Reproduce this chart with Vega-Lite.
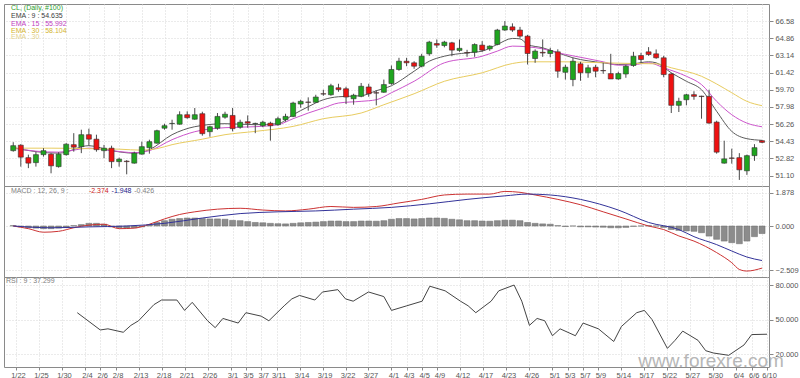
{
"$schema": "https://vega.github.io/schema/vega-lite/v6.json",
"background": "white",
"padding": {"left": 3, "top": 3, "right": 0, "bottom": 0},
"bounds": "flush",
"spacing": 0,
"resolve": {"scale": {"color": "independent", "fill": "independent"}},
"config": {
 "view": {"stroke": "#8a8a8a", "strokeWidth": 1},
 "concat": {"spacing": 0},
 "axis": {"labelFont": "Liberation Sans", "labelFontSize": 7.5, "labelColor": "#555555", "tickColor": "#888888", "tickSize": 4, "labelPadding": 2, "gridColor": "#d6d6d6", "gridDash": [1, 2], "domain": false},
 "text": {"font": "Liberation Sans", "fontSize": 7}
},
"datasets": {
 "candles": [
{"i":0,"o":53.6,"h":54.45,"l":53.5,"c":54.1,"hist":0.02},
{"i":1,"o":54.15,"h":54.25,"l":52.0,"c":52.95,"hist":-0.05},
{"i":2,"o":52.9,"h":53.2,"l":51.85,"c":52.35,"hist":-0.1},
{"i":3,"o":52.4,"h":53.5,"l":52.0,"c":53.2,"hist":-0.12},
{"i":4,"o":53.2,"h":53.85,"l":53.0,"c":53.6,"hist":-0.15},
{"i":5,"o":53.25,"h":53.35,"l":51.33,"c":52.08,"hist":-0.15},
{"i":6,"o":52.0,"h":53.45,"l":51.9,"c":53.25,"hist":-0.12},
{"i":7,"o":53.2,"h":54.35,"l":53.1,"c":54.25,"hist":-0.08},
{"i":8,"o":54.2,"h":55.35,"l":53.5,"c":53.95,"hist":0.02},
{"i":9,"o":54.0,"h":55.7,"l":53.35,"c":55.2,"hist":0.08},
{"i":10,"o":55.2,"h":55.8,"l":54.1,"c":54.75,"hist":0.15},
{"i":11,"o":54.75,"h":55.2,"l":53.5,"c":53.7,"hist":0.15},
{"i":12,"o":53.6,"h":54.18,"l":52.85,"c":53.85,"hist":0.1},
{"i":13,"o":53.85,"h":54.1,"l":51.85,"c":52.5,"hist":-0.05},
{"i":14,"o":52.5,"h":52.9,"l":52.0,"c":52.75,"hist":-0.1},
{"i":15,"o":52.55,"h":52.65,"l":51.23,"c":52.5,"hist":-0.12},
{"i":16,"o":52.35,"h":53.5,"l":52.3,"c":53.35,"hist":-0.1},
{"i":17,"o":53.25,"h":54.5,"l":53.2,"c":54.0,"hist":-0.05},
{"i":18,"o":53.9,"h":54.7,"l":53.3,"c":54.5,"hist":0.05},
{"i":19,"o":54.35,"h":55.7,"l":54.3,"c":55.6,"hist":0.2},
{"i":20,"o":55.85,"h":56.3,"l":55.7,"c":56.1,"hist":0.3},
{"i":21,"o":56.3,"h":56.7,"l":55.7,"c":56.33,"hist":0.38},
{"i":22,"o":56.25,"h":57.54,"l":56.2,"c":57.2,"hist":0.42},
{"i":23,"o":57.2,"h":57.54,"l":56.8,"c":56.9,"hist":0.45},
{"i":24,"o":56.75,"h":57.87,"l":56.7,"c":57.2,"hist":0.45},
{"i":25,"o":57.3,"h":57.5,"l":55.1,"c":55.3,"hist":0.42},
{"i":26,"o":55.5,"h":56.1,"l":55.0,"c":56.0,"hist":0.4},
{"i":27,"o":55.85,"h":57.37,"l":55.7,"c":57.03,"hist":0.4},
{"i":28,"o":56.95,"h":57.5,"l":56.8,"c":57.25,"hist":0.38},
{"i":29,"o":57.13,"h":57.87,"l":55.53,"c":55.8,"hist":0.32},
{"i":30,"o":55.95,"h":56.7,"l":55.8,"c":56.45,"hist":0.3},
{"i":31,"o":56.5,"h":57.13,"l":55.9,"c":56.35,"hist":0.25},
{"i":32,"o":56.3,"h":56.4,"l":55.35,"c":56.33,"hist":0.2},
{"i":33,"o":56.1,"h":56.6,"l":55.95,"c":56.45,"hist":0.18},
{"i":34,"o":56.35,"h":56.5,"l":54.6,"c":56.1,"hist":0.15},
{"i":35,"o":56.2,"h":57.0,"l":56.1,"c":56.8,"hist":0.13},
{"i":36,"o":56.7,"h":57.3,"l":56.5,"c":57.03,"hist":0.12},
{"i":37,"o":57.03,"h":58.5,"l":56.95,"c":58.37,"hist":0.15},
{"i":38,"o":58.27,"h":58.7,"l":57.9,"c":58.54,"hist":0.18},
{"i":39,"o":58.47,"h":58.94,"l":57.6,"c":58.44,"hist":0.2},
{"i":40,"o":58.44,"h":59.2,"l":58.4,"c":58.97,"hist":0.22},
{"i":41,"o":59.3,"h":59.7,"l":59.1,"c":59.27,"hist":0.25},
{"i":42,"o":59.2,"h":60.3,"l":59.1,"c":60.1,"hist":0.28},
{"i":43,"o":59.9,"h":60.3,"l":59.5,"c":59.72,"hist":0.28},
{"i":44,"o":59.8,"h":60.0,"l":58.27,"c":58.97,"hist":0.25},
{"i":45,"o":58.8,"h":59.3,"l":58.2,"c":59.15,"hist":0.25},
{"i":46,"o":59.04,"h":60.38,"l":58.95,"c":60.05,"hist":0.28},
{"i":47,"o":59.98,"h":60.3,"l":59.0,"c":59.3,"hist":0.28},
{"i":48,"o":59.4,"h":59.65,"l":58.14,"c":59.37,"hist":0.27},
{"i":49,"o":59.45,"h":60.72,"l":59.4,"c":60.22,"hist":0.3},
{"i":50,"o":60.32,"h":62.13,"l":60.2,"c":61.73,"hist":0.38},
{"i":51,"o":61.73,"h":62.9,"l":61.6,"c":62.56,"hist":0.42},
{"i":52,"o":62.56,"h":62.9,"l":62.06,"c":62.4,"hist":0.42},
{"i":53,"o":62.4,"h":62.56,"l":61.8,"c":62.06,"hist":0.4},
{"i":54,"o":62.06,"h":63.3,"l":61.95,"c":63.06,"hist":0.42},
{"i":55,"o":63.3,"h":64.6,"l":63.1,"c":64.47,"hist":0.45},
{"i":56,"o":64.33,"h":64.74,"l":63.9,"c":64.17,"hist":0.45},
{"i":57,"o":64.13,"h":64.6,"l":63.95,"c":64.47,"hist":0.43},
{"i":58,"o":64.4,"h":64.5,"l":63.06,"c":63.67,"hist":0.38},
{"i":59,"o":63.64,"h":64.74,"l":63.5,"c":63.85,"hist":0.35},
{"i":60,"o":63.42,"h":63.7,"l":63.0,"c":63.38,"hist":0.3},
{"i":61,"o":63.46,"h":64.35,"l":63.0,"c":64.23,"hist":0.3},
{"i":62,"o":64.17,"h":64.57,"l":63.5,"c":63.67,"hist":0.28},
{"i":63,"o":63.8,"h":64.15,"l":63.6,"c":64.07,"hist":0.27},
{"i":64,"o":64.24,"h":65.8,"l":64.15,"c":65.68,"hist":0.3},
{"i":65,"o":65.68,"h":66.58,"l":65.6,"c":66.08,"hist":0.33},
{"i":66,"o":66.0,"h":66.35,"l":65.5,"c":65.68,"hist":0.33},
{"i":67,"o":65.68,"h":66.0,"l":64.9,"c":65.07,"hist":0.3},
{"i":68,"o":65.07,"h":65.2,"l":62.23,"c":63.33,"hist":0.2},
{"i":69,"o":62.83,"h":63.75,"l":62.4,"c":63.57,"hist":0.15},
{"i":70,"o":63.45,"h":64.74,"l":63.0,"c":63.38,"hist":0.12},
{"i":71,"o":63.33,"h":63.9,"l":62.95,"c":63.63,"hist":0.1},
{"i":72,"o":63.5,"h":63.75,"l":60.9,"c":61.56,"hist":0.02},
{"i":73,"o":61.45,"h":62.2,"l":60.72,"c":61.96,"hist":-0.03},
{"i":74,"o":60.72,"h":62.9,"l":60.05,"c":62.56,"hist":0.0},
{"i":75,"o":62.3,"h":62.5,"l":60.6,"c":61.4,"hist":-0.05},
{"i":76,"o":61.4,"h":62.2,"l":60.9,"c":61.9,"hist":-0.05},
{"i":77,"o":61.96,"h":62.2,"l":60.95,"c":61.56,"hist":-0.06},
{"i":78,"o":61.63,"h":62.4,"l":61.3,"c":61.6,"hist":-0.07},
{"i":79,"o":61.32,"h":63.3,"l":60.8,"c":60.78,"hist":-0.1},
{"i":80,"o":60.78,"h":61.5,"l":60.7,"c":61.32,"hist":-0.1},
{"i":81,"o":61.28,"h":62.2,"l":60.9,"c":62.06,"hist":-0.08},
{"i":82,"o":62.13,"h":63.5,"l":62.0,"c":63.06,"hist":-0.02},
{"i":83,"o":63.13,"h":63.4,"l":62.4,"c":62.73,"hist":0.0},
{"i":84,"o":63.5,"h":63.97,"l":63.1,"c":63.23,"hist":0.02},
{"i":85,"o":63.3,"h":63.74,"l":62.8,"c":62.9,"hist":0.0},
{"i":86,"o":62.9,"h":63.1,"l":60.95,"c":61.22,"hist":-0.08},
{"i":87,"o":61.28,"h":61.4,"l":57.37,"c":58.14,"hist":-0.2},
{"i":88,"o":58.14,"h":58.9,"l":57.47,"c":58.54,"hist":-0.25},
{"i":89,"o":58.7,"h":59.3,"l":58.14,"c":59.2,"hist":-0.28},
{"i":90,"o":59.21,"h":59.55,"l":58.7,"c":59.04,"hist":-0.3},
{"i":91,"o":59.06,"h":59.1,"l":56.8,"c":59.02,"hist":-0.38},
{"i":92,"o":59.04,"h":59.7,"l":56.3,"c":56.36,"hist":-0.57},
{"i":93,"o":56.46,"h":56.6,"l":53.3,"c":53.45,"hist":-0.75},
{"i":94,"o":52.35,"h":54.6,"l":52.3,"c":52.78,"hist":-0.85},
{"i":95,"o":52.87,"h":53.8,"l":52.3,"c":52.83,"hist":-0.94},
{"i":96,"o":52.9,"h":53.35,"l":50.67,"c":51.68,"hist":-1.0},
{"i":97,"o":51.58,"h":53.2,"l":51.17,"c":53.1,"hist":-0.85},
{"i":98,"o":53.1,"h":54.25,"l":52.58,"c":53.9,"hist":-0.6},
{"i":99,"o":54.6,"h":54.65,"l":54.35,"c":54.43,"hist":-0.426}
 ],
 "ema": [
{"i":0,"v":53.9,"s":"EMA9"},{"i":3,"v":53.5,"s":"EMA9"},{"i":6,"v":53.35,"s":"EMA9"},{"i":10,"v":54.1,"s":"EMA9"},{"i":13,"v":53.6,"s":"EMA9"},{"i":16,"v":53.35,"s":"EMA9"},{"i":18,"v":53.7,"s":"EMA9"},{"i":21,"v":55.2,"s":"EMA9"},{"i":24,"v":56.0,"s":"EMA9"},{"i":28,"v":56.3,"s":"EMA9"},{"i":32,"v":56.2,"s":"EMA9"},{"i":35,"v":56.3,"s":"EMA9"},{"i":37,"v":57.2,"s":"EMA9"},{"i":39,"v":58.0,"s":"EMA9"},{"i":41,"v":58.7,"s":"EMA9"},{"i":43,"v":59.0,"s":"EMA9"},{"i":46,"v":59.1,"s":"EMA9"},{"i":48,"v":59.6,"s":"EMA9"},{"i":50,"v":60.1,"s":"EMA9"},{"i":53,"v":61.56,"s":"EMA9"},{"i":55,"v":62.56,"s":"EMA9"},{"i":57,"v":63.06,"s":"EMA9"},{"i":60,"v":63.4,"s":"EMA9"},{"i":62,"v":63.57,"s":"EMA9"},{"i":64,"v":64.24,"s":"EMA9"},{"i":66,"v":64.84,"s":"EMA9"},{"i":67,"v":64.8,"s":"EMA9"},{"i":68,"v":64.24,"s":"EMA9"},{"i":70,"v":63.9,"s":"EMA9"},{"i":72,"v":63.4,"s":"EMA9"},{"i":74,"v":62.9,"s":"EMA9"},{"i":78,"v":62.4,"s":"EMA9"},{"i":80,"v":62.23,"s":"EMA9"},{"i":82,"v":62.3,"s":"EMA9"},{"i":84,"v":62.5,"s":"EMA9"},{"i":85,"v":62.4,"s":"EMA9"},{"i":87,"v":61.4,"s":"EMA9"},{"i":89,"v":60.55,"s":"EMA9"},{"i":91,"v":59.7,"s":"EMA9"},{"i":93,"v":57.54,"s":"EMA9"},{"i":95,"v":55.53,"s":"EMA9"},{"i":97,"v":54.8,"s":"EMA9"},{"i":99,"v":54.635,"s":"EMA9"},
{"i":0,"v":53.85,"s":"EMA15"},{"i":3,"v":53.55,"s":"EMA15"},{"i":6,"v":53.45,"s":"EMA15"},{"i":10,"v":53.85,"s":"EMA15"},{"i":13,"v":53.6,"s":"EMA15"},{"i":16,"v":53.4,"s":"EMA15"},{"i":18,"v":53.6,"s":"EMA15"},{"i":21,"v":54.7,"s":"EMA15"},{"i":24,"v":55.5,"s":"EMA15"},{"i":28,"v":55.9,"s":"EMA15"},{"i":32,"v":56.0,"s":"EMA15"},{"i":35,"v":56.2,"s":"EMA15"},{"i":37,"v":56.8,"s":"EMA15"},{"i":39,"v":57.37,"s":"EMA15"},{"i":41,"v":57.87,"s":"EMA15"},{"i":43,"v":58.37,"s":"EMA15"},{"i":46,"v":58.54,"s":"EMA15"},{"i":48,"v":58.7,"s":"EMA15"},{"i":50,"v":59.4,"s":"EMA15"},{"i":53,"v":60.55,"s":"EMA15"},{"i":57,"v":62.4,"s":"EMA15"},{"i":62,"v":63.06,"s":"EMA15"},{"i":64,"v":63.57,"s":"EMA15"},{"i":66,"v":64.07,"s":"EMA15"},{"i":68,"v":64.0,"s":"EMA15"},{"i":70,"v":63.8,"s":"EMA15"},{"i":72,"v":63.4,"s":"EMA15"},{"i":74,"v":63.1,"s":"EMA15"},{"i":78,"v":62.5,"s":"EMA15"},{"i":80,"v":62.16,"s":"EMA15"},{"i":82,"v":62.2,"s":"EMA15"},{"i":84,"v":62.4,"s":"EMA15"},{"i":86,"v":61.9,"s":"EMA15"},{"i":89,"v":61.05,"s":"EMA15"},{"i":91,"v":60.22,"s":"EMA15"},{"i":93,"v":58.54,"s":"EMA15"},{"i":95,"v":57.2,"s":"EMA15"},{"i":97,"v":56.36,"s":"EMA15"},{"i":99,"v":55.992,"s":"EMA15"},
{"i":0,"v":53.85,"s":"EMA30"},{"i":5,"v":53.85,"s":"EMA30"},{"i":10,"v":53.8,"s":"EMA30"},{"i":14,"v":53.75,"s":"EMA30"},{"i":17,"v":53.65,"s":"EMA30"},{"i":19,"v":53.8,"s":"EMA30"},{"i":21,"v":54.2,"s":"EMA30"},{"i":25,"v":54.75,"s":"EMA30"},{"i":28,"v":55.2,"s":"EMA30"},{"i":32,"v":55.53,"s":"EMA30"},{"i":37,"v":56.03,"s":"EMA30"},{"i":41,"v":56.8,"s":"EMA30"},{"i":46,"v":57.37,"s":"EMA30"},{"i":49,"v":58.2,"s":"EMA30"},{"i":53,"v":59.3,"s":"EMA30"},{"i":57,"v":60.55,"s":"EMA30"},{"i":62,"v":61.4,"s":"EMA30"},{"i":66,"v":62.33,"s":"EMA30"},{"i":68,"v":62.5,"s":"EMA30"},{"i":73,"v":62.5,"s":"EMA30"},{"i":78,"v":62.4,"s":"EMA30"},{"i":82,"v":62.33,"s":"EMA30"},{"i":85,"v":62.3,"s":"EMA30"},{"i":87,"v":61.9,"s":"EMA30"},{"i":91,"v":61.05,"s":"EMA30"},{"i":93,"v":60.28,"s":"EMA30"},{"i":95,"v":59.4,"s":"EMA30"},{"i":97,"v":58.54,"s":"EMA30"},{"i":99,"v":58.104,"s":"EMA30"}
 ],
 "macd": [
{"i":0,"v":0.0,"k":"MACD"},{"i":2,"v":-0.15,"k":"MACD"},{"i":4,"v":-0.35,"k":"MACD"},{"i":6,"v":-0.3,"k":"MACD"},{"i":8,"v":-0.1,"k":"MACD"},{"i":10,"v":0.05,"k":"MACD"},{"i":12,"v":0.1,"k":"MACD"},{"i":14,"v":-0.15,"k":"MACD"},{"i":16,"v":-0.12,"k":"MACD"},{"i":18,"v":0.1,"k":"MACD"},{"i":20,"v":0.4,"k":"MACD"},{"i":22,"v":0.65,"k":"MACD"},{"i":24,"v":0.8,"k":"MACD"},{"i":27,"v":0.95,"k":"MACD"},{"i":30,"v":1.0,"k":"MACD"},{"i":33,"v":0.9,"k":"MACD"},{"i":36,"v":0.85,"k":"MACD"},{"i":39,"v":0.95,"k":"MACD"},{"i":42,"v":1.1,"k":"MACD"},{"i":45,"v":1.05,"k":"MACD"},{"i":48,"v":1.1,"k":"MACD"},{"i":51,"v":1.3,"k":"MACD"},{"i":54,"v":1.5,"k":"MACD"},{"i":57,"v":1.75,"k":"MACD"},{"i":60,"v":1.8,"k":"MACD"},{"i":63,"v":1.8,"k":"MACD"},{"i":65,"v":1.95,"k":"MACD"},{"i":67,"v":1.9,"k":"MACD"},{"i":69,"v":1.75,"k":"MACD"},{"i":72,"v":1.5,"k":"MACD"},{"i":75,"v":1.2,"k":"MACD"},{"i":78,"v":0.8,"k":"MACD"},{"i":81,"v":0.4,"k":"MACD"},{"i":84,"v":0.0,"k":"MACD"},{"i":86,"v":-0.2,"k":"MACD"},{"i":88,"v":-0.56,"k":"MACD"},{"i":90,"v":-0.85,"k":"MACD"},{"i":93,"v":-1.5,"k":"MACD"},{"i":95,"v":-2.07,"k":"MACD"},{"i":96,"v":-2.45,"k":"MACD"},{"i":97,"v":-2.54,"k":"MACD"},{"i":99,"v":-2.374,"k":"MACD"},
{"i":0,"v":0.0,"k":"Signal"},{"i":5,"v":-0.1,"k":"Signal"},{"i":10,"v":-0.05,"k":"Signal"},{"i":15,"v":0.0,"k":"Signal"},{"i":20,"v":0.15,"k":"Signal"},{"i":25,"v":0.45,"k":"Signal"},{"i":30,"v":0.7,"k":"Signal"},{"i":35,"v":0.8,"k":"Signal"},{"i":40,"v":0.85,"k":"Signal"},{"i":45,"v":0.95,"k":"Signal"},{"i":50,"v":1.05,"k":"Signal"},{"i":55,"v":1.25,"k":"Signal"},{"i":60,"v":1.5,"k":"Signal"},{"i":65,"v":1.7,"k":"Signal"},{"i":68,"v":1.8,"k":"Signal"},{"i":71,"v":1.75,"k":"Signal"},{"i":75,"v":1.5,"k":"Signal"},{"i":80,"v":0.9,"k":"Signal"},{"i":84,"v":0.2,"k":"Signal"},{"i":88,"v":-0.2,"k":"Signal"},{"i":90,"v":-0.6,"k":"Signal"},{"i":93,"v":-1.05,"k":"Signal"},{"i":95,"v":-1.41,"k":"Signal"},{"i":97,"v":-1.75,"k":"Signal"},{"i":99,"v":-1.948,"k":"Signal"}
 ],
 "rsi": [
{"i":9,"v":56},{"i":10,"v":51},{"i":12,"v":41},{"i":13,"v":42},{"i":15,"v":39},{"i":16,"v":45},{"i":17,"v":49},{"i":19,"v":63},{"i":20,"v":67},{"i":22,"v":67},{"i":23,"v":58},{"i":24,"v":65},{"i":26,"v":49},{"i":27,"v":43},{"i":28,"v":51},{"i":30,"v":47},{"i":31,"v":56},{"i":33,"v":53},{"i":34,"v":49},{"i":36,"v":62},{"i":37,"v":68},{"i":38,"v":71},{"i":40,"v":67},{"i":41,"v":74},{"i":43,"v":76},{"i":44,"v":68},{"i":45,"v":66},{"i":47,"v":74},{"i":49,"v":70},{"i":50,"v":58},{"i":52,"v":62},{"i":54,"v":66},{"i":55,"v":79},{"i":57,"v":75},{"i":59,"v":66},{"i":60,"v":62},{"i":61,"v":56},{"i":63,"v":66},{"i":64,"v":75},{"i":66,"v":80},{"i":67,"v":66},{"i":68,"v":45},{"i":69,"v":51},{"i":70,"v":49},{"i":71,"v":36},{"i":72,"v":42},{"i":74,"v":36},{"i":75,"v":47},{"i":77,"v":42},{"i":79,"v":31},{"i":80,"v":44},{"i":82,"v":56},{"i":83,"v":58},{"i":84,"v":50},{"i":86,"v":25},{"i":87,"v":32},{"i":88,"v":40},{"i":90,"v":32},{"i":91,"v":23},{"i":92,"v":21},{"i":94,"v":19},{"i":96,"v":28},{"i":97,"v":37},{"i":99,"v":37.3}
 ]
},
"vconcat": [
 {
  "width": 765, "height": 182,
  "layer": [
   {"data": {"name": "ema"}, "mark": {"type": "line", "strokeWidth": 1, "interpolate": "monotone"},
    "encoding": {
     "x": {"field": "i", "type": "quantitative", "scale": {"domain": [-0.561, 99.26], "nice": false, "zero": false}, "axis": {"values": [1,4,7,10,12,14,17,20,23,26,29,31,33,35,38,41,44,47,50,52,54,56,59,62,65,68,71,73,75,77,80,83,86,89,92,95,97,99], "grid": true, "labels": false, "ticks": false, "title": null}},
     "y": {"field": "v", "type": "quantitative", "scale": {"domain": [50.06, 68.29], "nice": false, "zero": false}, "axis": {"orient": "right", "values": [66.58,64.86,63.14,61.42,59.70,57.98,56.26,54.54,52.82,51.10], "labelExpr": "datum.value == 54.54 ? '54.43' : format(datum.value, '.2f')", "grid": true, "title": null}},
     "color": {"field": "s", "type": "nominal", "scale": {"domain": ["EMA9","EMA15","EMA30"], "range": ["#5a5a5a","#cc55cc","#e8cc60"]}, "legend": null}}},
   {"data": {"name": "candles"}, "mark": {"type": "rule", "color": "#4a4a4a", "strokeWidth": 1},
    "encoding": {
     "x": {"field": "i", "type": "quantitative", "scale": {"domain": [-0.561, 99.26], "nice": false, "zero": false}, "axis": {"values": [1,4,7,10,12,14,17,20,23,26,29,31,33,35,38,41,44,47,50,52,54,56,59,62,65,68,71,73,75,77,80,83,86,89,92,95,97,99], "grid": true, "labels": false, "ticks": false, "title": null}},
     "y": {"field": "l", "type": "quantitative", "scale": {"domain": [50.06, 68.29], "nice": false, "zero": false}, "axis": {"orient": "right", "values": [66.58,64.86,63.14,61.42,59.70,57.98,56.26,54.54,52.82,51.10], "labelExpr": "datum.value == 54.54 ? '54.43' : format(datum.value, '.2f')", "grid": true, "title": null}},
     "y2": {"field": "h"}}},
   {"data": {"name": "candles"}, "mark": {"type": "bar", "size": 5, "stroke": "#333333", "strokeWidth": 0.6},
    "encoding": {
     "x": {"field": "i", "type": "quantitative", "scale": {"domain": [-0.561, 99.26], "nice": false, "zero": false}, "axis": {"values": [1,4,7,10,12,14,17,20,23,26,29,31,33,35,38,41,44,47,50,52,54,56,59,62,65,68,71,73,75,77,80,83,86,89,92,95,97,99], "grid": true, "labels": false, "ticks": false, "title": null}},
     "y": {"field": "o", "type": "quantitative", "scale": {"domain": [50.06, 68.29], "nice": false, "zero": false}, "axis": {"orient": "right", "values": [66.58,64.86,63.14,61.42,59.70,57.98,56.26,54.54,52.82,51.10], "labelExpr": "datum.value == 54.54 ? '54.43' : format(datum.value, '.2f')", "grid": true, "title": null}},
     "y2": {"field": "c"},
     "fill": {"condition": {"test": "datum.c >= datum.o", "value": "#1fa51f"}, "value": "#ee1111"}}},
   {"data": {"values": [{"t": "CL,  (Daily, #100)", "py": 67.92, "col": "a"}, {"t": "EMA : 9 : 54.635", "py": 67.1, "col": "b"}, {"t": "EMA : 15 : 55.992", "py": 66.28, "col": "c"}, {"t": "EMA : 30 : 58.104", "py": 65.6, "col": "d"}, {"t": "EMA : 30", "py": 64.98, "col": "e"}]},
    "mark": {"type": "text", "align": "left", "baseline": "middle"},
    "encoding": {
     "text": {"field": "t"},
     "x": {"datum": -0.3, "type": "quantitative", "scale": {"domain": [-0.561, 99.26], "nice": false, "zero": false}, "axis": {"values": [1,4,7,10,12,14,17,20,23,26,29,31,33,35,38,41,44,47,50,52,54,56,59,62,65,68,71,73,75,77,80,83,86,89,92,95,97,99], "grid": true, "labels": false, "ticks": false, "title": null}},
     "y": {"field": "py", "type": "quantitative", "scale": {"domain": [50.06, 68.29], "nice": false, "zero": false}, "axis": {"orient": "right", "values": [66.58,64.86,63.14,61.42,59.70,57.98,56.26,54.54,52.82,51.10], "labelExpr": "datum.value == 54.54 ? '54.43' : format(datum.value, '.2f')", "grid": true, "title": null}},
     "fill": {"field": "col", "type": "nominal", "scale": {"domain": ["a","b","c","d","e"], "range": ["#2e9e2e","#404040","#c040c0","#d4b42c","#e4d28c"]}, "legend": null}}}
  ]
 },
 {
  "width": 765, "height": 91,
  "layer": [
   {"data": {"name": "candles"}, "mark": {"type": "bar", "size": 6, "fill": "#8c8c8c", "stroke": "#6a6a6a", "strokeWidth": 0.5},
    "encoding": {
     "x": {"field": "i", "type": "quantitative", "scale": {"domain": [-0.561, 99.26], "nice": false, "zero": false}, "axis": {"values": [1,4,7,10,12,14,17,20,23,26,29,31,33,35,38,41,44,47,50,52,54,56,59,62,65,68,71,73,75,77,80,83,86,89,92,95,97,99], "grid": true, "labels": false, "ticks": false, "title": null}},
     "y": {"field": "hist", "type": "quantitative", "scale": {"domain": [-2.876, 2.256], "nice": false, "zero": false}, "axis": {"orient": "right", "values": [1.878, 0, -2.509], "format": ".3f", "grid": true, "title": null}},
     "y2": {"datum": 0}}},
   {"data": {"name": "macd"}, "mark": {"type": "line", "strokeWidth": 1, "interpolate": "monotone"},
    "encoding": {
     "x": {"field": "i", "type": "quantitative", "scale": {"domain": [-0.561, 99.26], "nice": false, "zero": false}, "axis": {"values": [1,4,7,10,12,14,17,20,23,26,29,31,33,35,38,41,44,47,50,52,54,56,59,62,65,68,71,73,75,77,80,83,86,89,92,95,97,99], "grid": true, "labels": false, "ticks": false, "title": null}},
     "y": {"field": "v", "type": "quantitative", "scale": {"domain": [-2.876, 2.256], "nice": false, "zero": false}, "axis": {"orient": "right", "values": [1.878, 0, -2.509], "format": ".3f", "grid": true, "title": null}},
     "color": {"field": "k", "type": "nominal", "scale": {"domain": ["MACD","Signal"], "range": ["#cc3333","#333399"]}, "legend": null}}},
   {"data": {"values": [{"t": "MACD : 12, 26, 9 :", "px": -0.3, "col": "a"}, {"t": "-2.374", "px": 10.0, "col": "b"}, {"t": "-1.948", "px": 13.0, "col": "c"}, {"t": "-0.426", "px": 16.0, "col": "a"}]},
    "mark": {"type": "text", "align": "left", "baseline": "middle"},
    "encoding": {
     "text": {"field": "t"},
     "x": {"field": "px", "type": "quantitative", "scale": {"domain": [-0.561, 99.26], "nice": false, "zero": false}, "axis": {"values": [1,4,7,10,12,14,17,20,23,26,29,31,33,35,38,41,44,47,50,52,54,56,59,62,65,68,71,73,75,77,80,83,86,89,92,95,97,99], "grid": true, "labels": false, "ticks": false, "title": null}},
     "y": {"datum": 1.97, "type": "quantitative", "scale": {"domain": [-2.876, 2.256], "nice": false, "zero": false}, "axis": {"orient": "right", "values": [1.878, 0, -2.509], "format": ".3f", "grid": true, "title": null}},
     "fill": {"field": "col", "type": "nominal", "scale": {"domain": ["a","b","c"], "range": ["#808080","#cc2222","#222288"]}, "legend": null}}}
  ]
 },
 {
  "width": 765, "height": 90,
  "layer": [
   {"data": {"name": "rsi"}, "mark": {"type": "line", "strokeWidth": 1, "color": "#444444"},
    "encoding": {
     "x": {"field": "i", "type": "quantitative", "scale": {"domain": [-0.561, 99.26], "nice": false, "zero": false}, "axis": {"values": [1,4,7,10,12,14,17,20,23,26,29,31,33,35,38,41,44,47,50,52,54,56,59,62,65,68,71,73,75,77,80,83,86,89,92,95,97,99], "labelExpr": "['1/22','1/25','1/30','2/4','2/6','2/8','2/13','2/18','2/21','2/26','3/1','3/5','3/7','3/11','3/14','3/19','3/22','3/27','4/1','4/3','4/5','4/9','4/12','4/17','4/23','4/26','5/1','5/3','5/7','5/9','5/14','5/17','5/22','5/27','5/30','6/4','6/6','6/10'][indexof([1,4,7,10,12,14,17,20,23,26,29,31,33,35,38,41,44,47,50,52,54,56,59,62,65,68,71,73,75,77,80,83,86,89,92,95,97,99], datum.value)]", "grid": true, "labels": true, "ticks": true, "tickSize": 3, "labelPadding": 1, "labelFlush": false, "labelOverlap": false, "labelOffset": 2, "title": null}},
     "y": {"field": "v", "type": "quantitative", "scale": {"domain": [8.84, 87.0], "nice": false, "zero": false}, "axis": {"orient": "right", "values": [80, 50, 20], "format": ".3f", "grid": true, "title": null}}}},
   {"data": {"values": [{"t": "RSI : 9 : 37.299", "px": -0.3, "py": 83.3}]},
    "mark": {"type": "text", "align": "left", "baseline": "middle", "color": "#808080"},
    "encoding": {
     "text": {"field": "t"},
     "x": {"field": "px", "type": "quantitative", "scale": {"domain": [-0.561, 99.26], "nice": false, "zero": false}, "axis": {"values": [1,4,7,10,12,14,17,20,23,26,29,31,33,35,38,41,44,47,50,52,54,56,59,62,65,68,71,73,75,77,80,83,86,89,92,95,97,99], "labelExpr": "['1/22','1/25','1/30','2/4','2/6','2/8','2/13','2/18','2/21','2/26','3/1','3/5','3/7','3/11','3/14','3/19','3/22','3/27','4/1','4/3','4/5','4/9','4/12','4/17','4/23','4/26','5/1','5/3','5/7','5/9','5/14','5/17','5/22','5/27','5/30','6/4','6/6','6/10'][indexof([1,4,7,10,12,14,17,20,23,26,29,31,33,35,38,41,44,47,50,52,54,56,59,62,65,68,71,73,75,77,80,83,86,89,92,95,97,99], datum.value)]", "grid": true, "labels": true, "ticks": true, "tickSize": 3, "labelPadding": 1, "labelFlush": false, "labelOverlap": false, "labelOffset": 2, "title": null}},
     "y": {"field": "py", "type": "quantitative", "scale": {"domain": [8.84, 87.0], "nice": false, "zero": false}, "axis": {"orient": "right", "values": [80, 50, 20], "format": ".3f", "grid": true, "title": null}}}},
   {"data": {"values": [{"t": "www.forexre.com", "px": 91.7, "py": 14.3}]},
    "mark": {"type": "text", "align": "center", "baseline": "middle", "color": "#a0a0a0", "opacity": 0.75, "fontSize": 19, "clip": false},
    "encoding": {
     "text": {"field": "t"},
     "x": {"field": "px", "type": "quantitative", "scale": {"domain": [-0.561, 99.26], "nice": false, "zero": false}, "axis": {"values": [1,4,7,10,12,14,17,20,23,26,29,31,33,35,38,41,44,47,50,52,54,56,59,62,65,68,71,73,75,77,80,83,86,89,92,95,97,99], "labelExpr": "['1/22','1/25','1/30','2/4','2/6','2/8','2/13','2/18','2/21','2/26','3/1','3/5','3/7','3/11','3/14','3/19','3/22','3/27','4/1','4/3','4/5','4/9','4/12','4/17','4/23','4/26','5/1','5/3','5/7','5/9','5/14','5/17','5/22','5/27','5/30','6/4','6/6','6/10'][indexof([1,4,7,10,12,14,17,20,23,26,29,31,33,35,38,41,44,47,50,52,54,56,59,62,65,68,71,73,75,77,80,83,86,89,92,95,97,99], datum.value)]", "grid": true, "labels": true, "ticks": true, "tickSize": 3, "labelPadding": 1, "labelFlush": false, "labelOverlap": false, "labelOffset": 2, "title": null}},
     "y": {"field": "py", "type": "quantitative", "scale": {"domain": [8.84, 87.0], "nice": false, "zero": false}, "axis": {"orient": "right", "values": [80, 50, 20], "format": ".3f", "grid": true, "title": null}}}}
  ]
 }
]
}
